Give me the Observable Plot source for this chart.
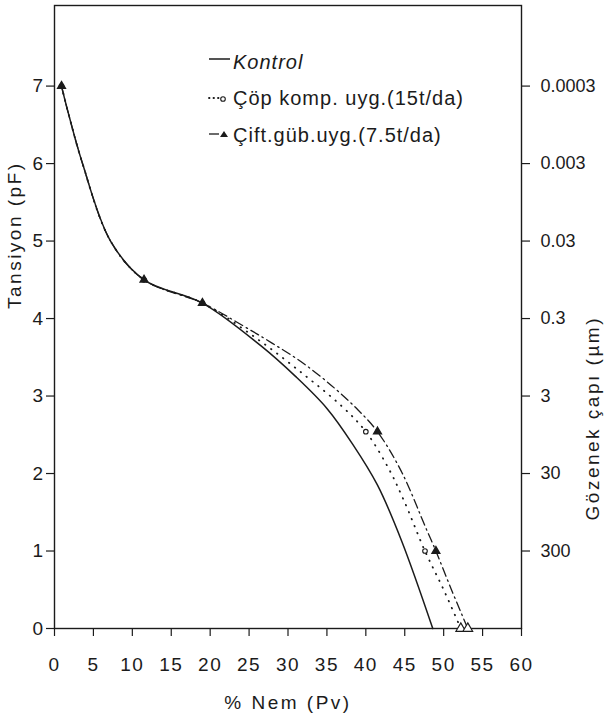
<!DOCTYPE html>
<html>
<head>
<meta charset="utf-8">
<script src="https://cdn.jsdelivr.net/npm/d3@7"></script>
<script src="https://cdn.jsdelivr.net/npm/@observablehq/plot@0.6"></script>
<style>
  body { margin: 0; background: #fff; }
  #wrap { position: relative; width: 605px; height: 719px; font-family: "Liberation Sans", Arial, sans-serif; color: #1b1b1b; overflow: hidden; }
  #legend { position: absolute; left: 207px; top: 44px; font-size: 20px; letter-spacing: 1px; }
  .row { height: 36.5px; display: flex; align-items: center; white-space: nowrap; }
  .row svg { margin-right: 2px; flex: none; }
</style>
</head>
<body>
<div id="wrap"><div id="legend"></div></div>
<script>
// ---- data ----
const seriesNames = ["Kontrol", "Çöp komp. uyg.(15t/da)", "Çift.güb.uyg.(7.5t/da)"];

const kontrolNem = [0.9, 1.7, 3.6, 7.2, 11.5, 19, 26.5, 31, 35, 38.3, 41.5, 44.6, 48.6];
const kontrolPF  = [7, 6.68, 6, 5, 4.5, 4.2, 3.65, 3.25, 2.84, 2.38, 1.85, 1.13, 0];

const copNem = [0.9, 1.7, 3.6, 7.2, 11.5, 19, 26, 32, 37, 40, 42.9, 44.9, 47.6, 50, 52.2];
const copPF  = [7, 6.68, 6, 5, 4.5, 4.2, 3.74, 3.28, 2.86, 2.54, 2.07, 1.65, 1, 0.5, 0];

const ciftNem = [0.9, 1.7, 3.6, 7.2, 11.5, 19, 24, 28, 32, 36, 39, 41.5, 44.6, 47.7, 49, 51, 53.1];
const ciftPF  = [7, 6.68, 6, 5, 4.5, 4.2, 3.92, 3.68, 3.42, 3.1, 2.82, 2.54, 2.02, 1.3, 1, 0.5, 0];

const measuredPF = [7, 4.5, 4.2, 2.54, 1];   // points carrying markers
const xTicks = [0, 5, 10, 15, 20, 25, 30, 35, 40, 45, 50, 55, 60];
const pfTicks = [0, 1, 2, 3, 4, 5, 6, 7];
const poreTicks = [1, 2, 3, 4, 5, 6, 7];
const poreLabels = ["300", "30", "3", "0.3", "0.03", "0.003", "0.0003"];

const xTitle = "% Nem (Pv)";
const yTitle = "Tansiyon (pF)";
const y2Title = "Gözenek çapı (µm)";

// ---- tables ----
const toRows = (nem, pf, s) => nem.map((x, i) => ({nem: x, pF: pf[i], s}));
const kontrol = toRows(kontrolNem, kontrolPF, seriesNames[0]);
const cop = toRows(copNem, copPF, seriesNames[1]);
const cift = toRows(ciftNem, ciftPF, seriesNames[2]);
const marked = rows => rows.filter(d => measuredPF.includes(d.pF));
const zeroPts = [cop, cift].map(r => r.find(d => d.pF === 0));

const ink = "#1b1b1b";

const chart = Plot.plot({
  width: 605,
  height: 719,
  marginLeft: 54,
  marginRight: 84,
  marginTop: 5,
  marginBottom: 91,
  style: {fontFamily: "Liberation Sans, Arial, sans-serif", fontSize: "19px", color: ink, background: "#fff", overflow: "visible"},
  x: {domain: [0, 60]},
  y: {domain: [0, 8.04]},
  marks: [
    Plot.axisX({ticks: xTicks, tickSize: 8, tickPadding: 21, label: null, fontSize: 19, strokeWidth: 1.2}),
    Plot.axisY({ticks: pfTicks, tickSize: 8, tickPadding: 2, label: null, fontSize: 19, strokeWidth: 1.2}),
    Plot.axisY({anchor: "right", ticks: poreTicks, tickFormat: d => poreLabels[poreTicks.indexOf(d)],
                tickSize: 8, tickPadding: 11, label: null, fontSize: 18, strokeWidth: 1.2}),
    Plot.frame({stroke: ink, strokeWidth: 1.4}),
    Plot.line(kontrol, {x: "nem", y: "pF", curve: "catmull-rom", stroke: ink, strokeWidth: 1.5}),
    Plot.line(cop, {x: "nem", y: "pF", curve: "catmull-rom", stroke: ink, strokeWidth: 1.8,
                    strokeDasharray: "0.5,7", strokeLinecap: "round"}),
    Plot.line(cift, {x: "nem", y: "pF", curve: "catmull-rom", stroke: ink, strokeWidth: 1.3,
                     strokeDasharray: "9,4,1.5,4"}),
    Plot.dot(marked(cop), {x: "nem", y: "pF", r: 2.3, stroke: ink, strokeWidth: 1.1, fill: "white"}),
    Plot.dot(marked(cift), {x: "nem", y: "pF", symbol: "triangle", r: 2.8, fill: ink, stroke: ink}),
    Plot.dot(zeroPts, {x: "nem", y: "pF", symbol: "triangle", r: 3.6, stroke: ink, strokeWidth: 1.2, fill: "white"}),
    Plot.text([xTitle], {frameAnchor: "bottom", dy: 80, fontSize: 19, fill: ink}),
    Plot.text([yTitle], {frameAnchor: "left", dx: -40, dy: -8, rotate: -90, fontSize: 19, fill: ink}),
    Plot.text([y2Title], {frameAnchor: "right", dx: 71, dy: -1, rotate: -90, fontSize: 19, fill: ink})
  ]
});

d3.select(chart).selectAll('g[aria-label="text"] text').style("letter-spacing", "2.5px");
d3.select(chart).selectAll('g[aria-label="x-axis tick label"] text, g[aria-label="y-axis tick label"] text')
  .filter(function() { return this.closest("g").getAttribute("text-anchor") !== "start"; })
  .style("letter-spacing", "1.5px");

const wrap = document.getElementById("wrap");
wrap.insertBefore(chart, wrap.firstChild);
chart.style.position = "absolute";
chart.style.left = "0";
chart.style.top = "0";

// ---- legend ----
const swatches = [
  `<svg width="24" height="20"><line x1="2" y1="7" x2="23" y2="7" stroke="${ink}" stroke-width="1.5"/></svg>`,
  `<svg width="24" height="20"><line x1="2" y1="9" x2="12" y2="9" stroke="${ink}" stroke-width="1.8" stroke-dasharray="0.5,4" stroke-linecap="round"/><circle cx="16" cy="10" r="2.3" fill="white" stroke="${ink}" stroke-width="1.1"/></svg>`,
  `<svg width="24" height="20"><line x1="2" y1="9" x2="12" y2="9" stroke="${ink}" stroke-width="1.3"/><path d="M13,12 L17,6 L21,12 Z" fill="${ink}"/></svg>`
];
const legend = document.getElementById("legend");
seriesNames.forEach((name, i) => {
  const row = document.createElement("div");
  row.className = "row";
  row.innerHTML = swatches[i] + `<span style="${i === 0 ? "font-style:italic;" : ""}">${name}</span>`;
  legend.appendChild(row);
});
</script>
</body>
</html>
